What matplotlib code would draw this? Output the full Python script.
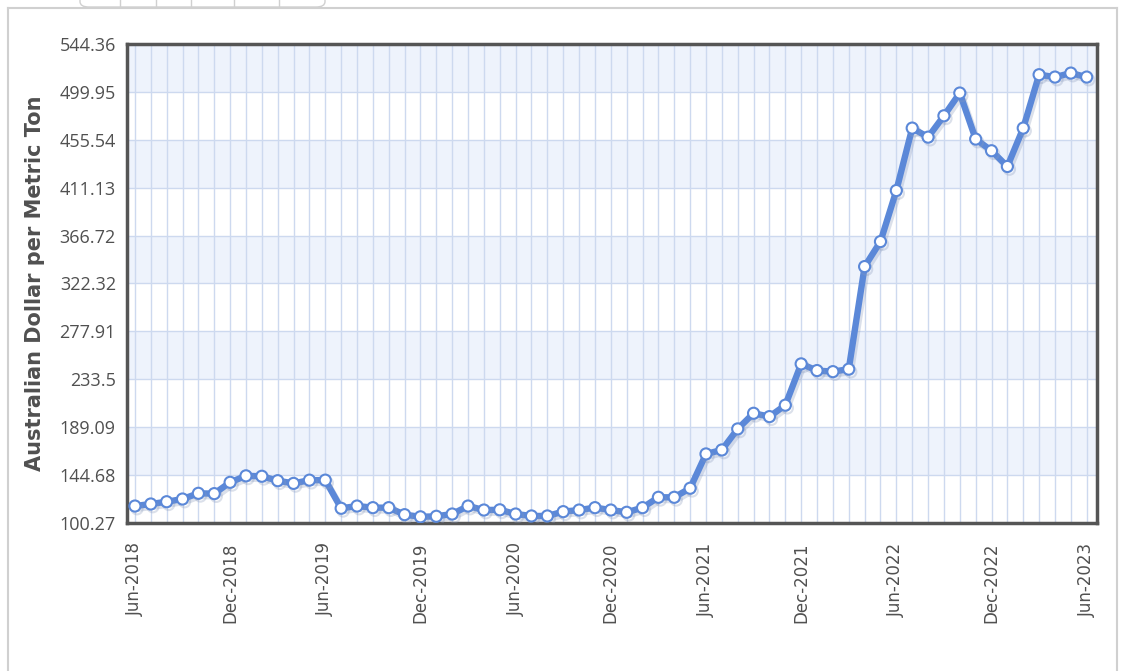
import matplotlib
matplotlib.use("Agg")
import matplotlib.pyplot as plt
import matplotlib.patheffects as pe
from matplotlib.lines import Line2D
from matplotlib.patches import FancyBboxPatch

months = ["Jun-2018", "Jul-2018", "Aug-2018", "Sep-2018", "Oct-2018", "Nov-2018",
          "Dec-2018", "Jan-2019", "Feb-2019", "Mar-2019", "Apr-2019", "May-2019",
          "Jun-2019", "Jul-2019", "Aug-2019", "Sep-2019", "Oct-2019", "Nov-2019",
          "Dec-2019", "Jan-2020", "Feb-2020", "Mar-2020", "Apr-2020", "May-2020",
          "Jun-2020", "Jul-2020", "Aug-2020", "Sep-2020", "Oct-2020", "Nov-2020",
          "Dec-2020", "Jan-2021", "Feb-2021", "Mar-2021", "Apr-2021", "May-2021",
          "Jun-2021", "Jul-2021", "Aug-2021", "Sep-2021", "Oct-2021", "Nov-2021",
          "Dec-2021", "Jan-2022", "Feb-2022", "Mar-2022", "Apr-2022", "May-2022",
          "Jun-2022", "Jul-2022", "Aug-2022", "Sep-2022", "Oct-2022", "Nov-2022",
          "Dec-2022", "Jan-2023", "Feb-2023", "Mar-2023", "Apr-2023", "May-2023",
          "Jun-2023"]
prices = [116.0, 117.9, 120.0, 122.5, 127.8, 127.5,
          138.0, 144.0, 143.6, 139.5, 137.0, 140.0,
          140.0, 113.9, 116.0, 114.5, 114.5, 108.0,
          106.0, 106.5, 108.6, 116.0, 112.3, 112.5,
          108.6, 106.8, 106.8, 110.8, 112.3, 114.5,
          112.3, 110.2, 114.5, 124.1, 124.1, 132.5,
          164.3, 168.0, 187.5, 202.0, 198.9, 209.5,
          247.8, 241.6, 240.6, 242.9, 338.0, 361.2,
          408.5, 466.4, 458.0, 477.8, 498.9, 456.2,
          445.4, 430.8, 466.4, 515.9, 513.7, 517.4,
          513.7]
y_ticks = [100.27, 144.68, 189.09, 233.5, 277.91, 322.32, 366.72, 411.13,
           455.54, 499.95, 544.36]
y_tick_labels = ["100.27", "144.68", "189.09", "233.5", "277.91", "322.32",
                 "366.72", "411.13", "455.54", "499.95", "544.36"]
x_label_step = 6

W, H = 1125, 671
fig = plt.figure(figsize=(W / 100, H / 100), dpi=100)
fig.patch.set_facecolor("white")

# outer frame lines
frame_c = "#d0d0d0"
fig.add_artist(Line2D([8 / W, 8 / W], [0, 1 - 8 / H], transform=fig.transFigure, color=frame_c, lw=1.5))
fig.add_artist(Line2D([1117 / W, 1117 / W], [0, 1 - 8 / H], transform=fig.transFigure, color=frame_c, lw=1.5))
fig.add_artist(Line2D([8 / W, 1117 / W], [1 - 8 / H, 1 - 8 / H], transform=fig.transFigure, color=frame_c, lw=1.5))
# tab outlines at the top
fig.add_artist(FancyBboxPatch((80 / W, 1 - 7 / H), 245 / W, 20 / H,
                              boxstyle="round,pad=0,rounding_size=0.008",
                              transform=fig.transFigure, facecolor="none",
                              edgecolor=frame_c, lw=1, clip_on=False))
for xv in [120, 156, 191, 234, 279]:
    fig.add_artist(Line2D([xv / W, xv / W], [1 - 7 / H, 1], transform=fig.transFigure, color=frame_c, lw=1))

ax = fig.add_axes([127 / W, 1 - 523 / H, (1097 - 127) / W, (523 - 44) / H])
ax.set_xlim(-0.5, len(prices) - 1 + 0.65)
ax.set_ylim(y_ticks[0], y_ticks[-1])

# alternating bands
for k in range(len(y_ticks) - 1):
    if k % 2 == 1:
        ax.axhspan(y_ticks[k], y_ticks[k + 1], color="#eef3fc", zorder=0, lw=0)

x = list(range(len(prices)))
for xi in x:
    ax.axvline(xi, color="#cdd9ef", lw=1, zorder=1)
for yt in y_ticks:
    ax.axhline(yt, color="#cdd9ef", lw=1, zorder=1)

ax.plot(x, prices, color="#5b88d8", lw=4.6, marker="o", markersize=8,
        markerfacecolor="white", markeredgecolor="#5b88d8", markeredgewidth=1.5,
        zorder=3, solid_joinstyle="round",
        path_effects=[pe.SimpleLineShadow(offset=(1.5, -2), shadow_color="#8899bb", alpha=0.3), pe.Normal()])

ax.set_yticks(y_ticks)
ax.set_yticklabels(y_tick_labels, color="#505050", fontsize=13, family="Open Sans")
ax.set_xticks(x[::x_label_step])
ax.set_xticklabels(months[::x_label_step], rotation=90, color="#505050", fontsize=12,
                   family="DejaVu Sans")
ax.tick_params(axis="both", length=0)
ax.tick_params(axis="x", pad=14)
ax.tick_params(axis="y", pad=8)

for s in ax.spines.values():
    s.set_color("#555555")
    s.set_linewidth(2.5)

ax.set_ylabel("Australian Dollar per Metric Ton", fontsize=15, fontweight="bold",
              color="#505050")
ax.yaxis.set_label_coords(-0.085, 0.5)

fig.savefig("out.png", dpi=100, facecolor="white")
